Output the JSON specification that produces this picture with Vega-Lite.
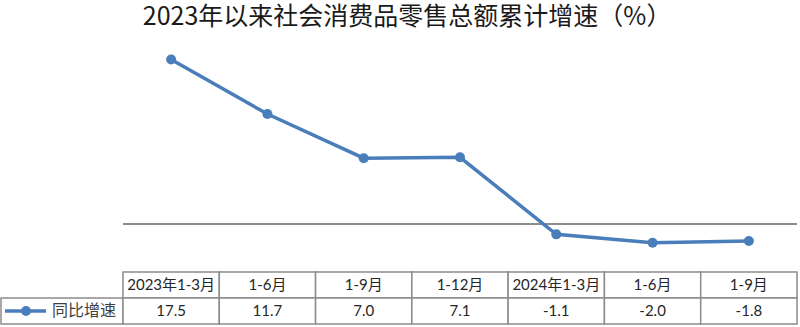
{
  "$schema": "https://vega.github.io/schema/vega-lite/v6.json",
  "background": "white",
  "padding": {"left": 0, "right": 0, "top": 5, "bottom": 0},
  "autosize": {"type": "pad"},
  "title": {
    "text": "2023年以来社会消费品零售总额累计增速（%）",
    "font": "Noto Sans CJK SC",
    "fontSize": 25,
    "fontWeight": "normal",
    "color": "#1a1a1a",
    "anchor": "middle",
    "offset": 6,
    "dx": 8
  },
  "config": {
    "view": {"stroke": null},
    "locale": {
      "number": {"decimal": ".", "thousands": ",", "grouping": [3], "currency": ["", ""], "minus": "-"}
    },
    "text": {"font": "Lato, Noto Sans CJK SC", "fontSize": 15, "color": "#262626"}
  },
  "datasets": {
    "retail": [
      {"period": "2023年1-3月", "label": "2023年1-3月", "value": 17.5},
      {"period": "2023年1-6月", "label": "1-6月", "value": 11.7},
      {"period": "2023年1-9月", "label": "1-9月", "value": 7.0},
      {"period": "2023年1-12月", "label": "1-12月", "value": 7.1},
      {"period": "2024年1-3月", "label": "2024年1-3月", "value": -1.1},
      {"period": "2024年1-6月", "label": "1-6月", "value": -2.0},
      {"period": "2024年1-9月", "label": "1-9月", "value": -1.8}
    ]
  },
  "spacing": 0,
  "vconcat": [
    {
      "width": 674,
      "height": 235,
      "layer": [
        {
          "data": {"values": [{}]},
          "mark": {"type": "rule", "color": "#8c8c8c", "strokeWidth": 2},
          "encoding": {"y": {"datum": 0, "type": "quantitative"}}
        },
        {
          "data": {"name": "retail"},
          "mark": {
            "type": "line",
            "color": "#4a7ebb",
            "strokeWidth": 3.5,
            "point": {"filled": true, "size": 100, "color": "#4a7ebb"}
          },
          "encoding": {
            "x": {
              "field": "period",
              "type": "nominal",
              "sort": null,
              "scale": {"type": "point", "padding": 0.5},
              "axis": null
            },
            "y": {
              "field": "value",
              "type": "quantitative",
              "scale": {"domain": [-5, 20], "nice": false, "zero": false},
              "axis": {
                "labels": false,
                "ticks": false,
                "domain": false,
                "grid": false,
                "title": null,
                "minExtent": 122,
                "maxExtent": 122
              }
            }
          }
        }
      ]
    },
    {
      "width": 674,
      "height": 52,
      "resolve": {"scale": {"x": "independent"}},
      "layer": [
        {
          "data": {"values": [{"series": "同比增速"}]},
          "encoding": {
            "y": {
              "datum": "v",
              "type": "nominal",
              "scale": {"domain": ["h", "v"], "paddingInner": 0, "paddingOuter": 0},
              "axis": null
            }
          },
          "layer": [
            {
              "mark": {"type": "rect", "fill": "white", "stroke": "#8c8c8c", "strokeWidth": 1.5},
              "encoding": {
                "x": {
                  "datum": 0,
                  "type": "quantitative",
                  "scale": {"domain": [0, 122], "range": [-122, 0], "nice": false, "zero": false},
                  "axis": null
                },
                "x2": {"datum": 122}
              }
            },
            {
              "mark": {"type": "rule", "color": "#4a7ebb", "strokeWidth": 3.5},
              "encoding": {
                "x": {"datum": 4, "type": "quantitative"},
                "x2": {"datum": 45}
              }
            },
            {
              "mark": {"type": "point", "filled": true, "size": 100, "color": "#4a7ebb", "opacity": 1},
              "encoding": {"x": {"datum": 25, "type": "quantitative"}}
            },
            {
              "mark": {"type": "text", "align": "left", "baseline": "middle", "font": "Noto Sans CJK SC", "fontSize": 16, "color": "#404040"},
              "encoding": {
                "x": {"datum": 51, "type": "quantitative"},
                "text": {"field": "series"}
              }
            }
          ]
        },
        {
          "data": {"name": "retail"},
          "encoding": {
            "x": {
              "field": "period",
              "type": "nominal",
              "sort": null,
              "scale": {"paddingInner": 0, "paddingOuter": 0},
              "axis": null
            }
          },
          "layer": [
            {
              "mark": {"type": "rect", "fill": "white", "stroke": "#8c8c8c", "strokeWidth": 1.5},
              "encoding": {"y": {"datum": "h", "type": "nominal"}}
            },
            {
              "mark": {"type": "rect", "fill": "white", "stroke": "#8c8c8c", "strokeWidth": 1.5},
              "encoding": {"y": {"datum": "v", "type": "nominal"}}
            },
            {
              "mark": {"type": "text", "baseline": "middle"},
              "encoding": {
                "y": {"datum": "h", "type": "nominal"},
                "text": {"field": "label"}
              }
            },
            {
              "mark": {"type": "text", "baseline": "middle"},
              "encoding": {
                "y": {"datum": "v", "type": "nominal"},
                "text": {"field": "value", "format": ".1f"}
              }
            }
          ]
        }
      ]
    }
  ]
}
